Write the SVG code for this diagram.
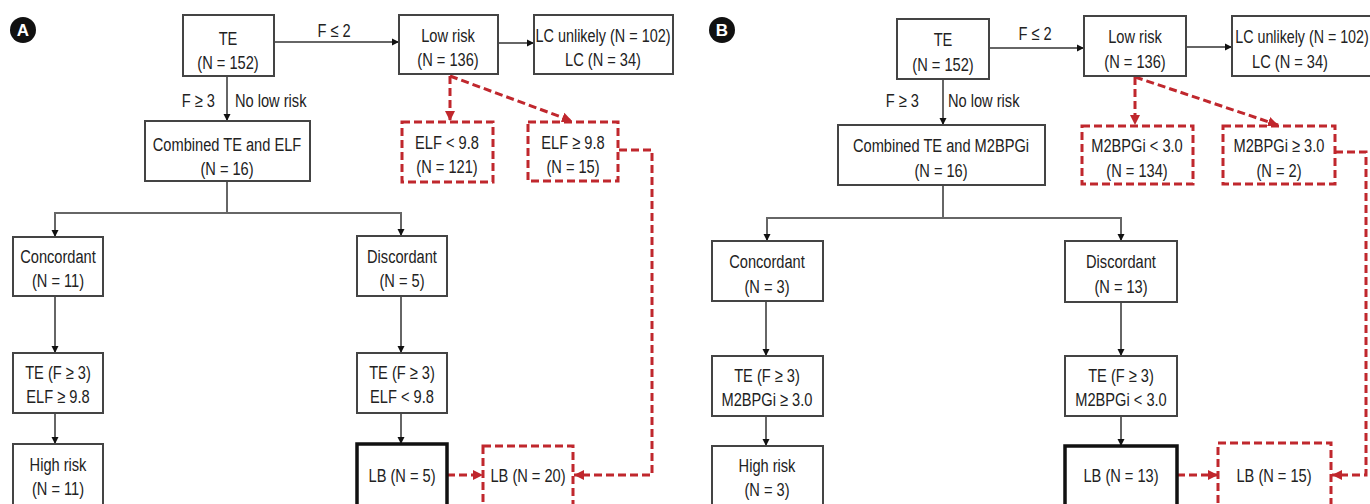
<svg xmlns="http://www.w3.org/2000/svg" width="1370" height="504" viewBox="0 0 1370 504">
<defs>
<marker id="ah" markerUnits="userSpaceOnUse" markerWidth="8" markerHeight="8" refX="7" refY="4" orient="auto"><path d="M0,0.5 L7,4 L0,7.5 z" fill="#111"/></marker>
<marker id="ahr" markerUnits="userSpaceOnUse" markerWidth="12" markerHeight="12" refX="10" refY="6" orient="auto"><path d="M0,1 L10,6 L0,11 z" fill="#c0272d"/></marker>
<style>
text{font-family:"Liberation Sans",Arial,sans-serif;font-size:19px;fill:#222;text-anchor:middle}
.box{fill:#fff;stroke:#444;stroke-width:2}
.thick{fill:#fff;stroke:#111;stroke-width:3.5}
.rbox{fill:#fff;stroke:#c0272d;stroke-width:3;stroke-dasharray:8 4}
.ln{fill:none;stroke:#666;stroke-width:2;marker-end:url(#ah)}
.rl{fill:none;stroke:#c0272d;stroke-width:3;stroke-dasharray:8 4;marker-end:url(#ahr)}
.lbl{text-anchor:start}
.lbr{text-anchor:end}
.badge{fill:#111}
.badgeT{font-weight:bold;fill:#fff;font-size:17px}
</style>
</defs>

<g id="connectors">
<path class="ln" d="M274,42 H399"/>
<path class="ln" d="M498,43 H534"/>
<path class="ln" d="M227,76 V121"/>
<path class="ln" d="M227,181 V213 H55 V237"/>
<path class="ln" d="M227,213 H401 V236"/>
<path class="ln" d="M55,296 V353"/>
<path class="ln" d="M55,413 V444"/>
<path class="ln" d="M401,296 V353"/>
<path class="ln" d="M401,413 V444"/>
<path class="rl" d="M450,76 V121"/>
<path class="rl" d="M450,76 L572,121"/>
<path class="rl" d="M619,150 H652 V475 H574"/>
<path class="rl" d="M447,475 H483"/>
<path class="ln" d="M989,48 H1084"/>
<path class="ln" d="M1186,47 H1232"/>
<path class="ln" d="M943,79 V125"/>
<path class="ln" d="M943,185 V218 H767 V241"/>
<path class="ln" d="M943,218 H1121 V241"/>
<path class="ln" d="M766,301 V356"/>
<path class="ln" d="M766,416 V446"/>
<path class="ln" d="M1121,302 V356"/>
<path class="ln" d="M1121,416 V446"/>
<path class="rl" d="M1135,77 V125"/>
<path class="rl" d="M1135,77 L1278,125"/>
<path class="rl" d="M1335,152 H1366 V475 H1332"/>
<path class="rl" d="M1177,475 H1218"/>
</g>

<g id="labels">
<text transform="translate(334,37) scale(0.77,1)">F ≤ 2</text>
<text class="lbr" transform="translate(215,107) scale(0.77,1)">F ≥ 3</text>
<text class="lbl" transform="translate(235,107) scale(0.77,1)">No low risk</text>
<text transform="translate(1035,40) scale(0.77,1)">F ≤ 2</text>
<text class="lbr" transform="translate(919,107) scale(0.77,1)">F ≥ 3</text>
<text class="lbl" transform="translate(948,107) scale(0.77,1)">No low risk</text>
</g>

<g id="badgeA"><circle class="badge" cx="23" cy="30" r="13"/><text class="badgeT" x="23" y="36">A</text></g>
<g id="badgeB"><circle class="badge" cx="722" cy="30" r="13"/><text class="badgeT" x="722" y="36">B</text></g>

<g id="a-te"><rect class="box" x="183" y="15" width="91" height="61"/><text transform="translate(228,45) scale(0.77,1)">TE</text><text transform="translate(228,69) scale(0.77,1)">(N = 152)</text></g>
<g id="a-low"><rect class="box" x="399" y="15" width="99" height="59"/><text transform="translate(448,42) scale(0.77,1)">Low risk</text><text transform="translate(448,66) scale(0.77,1)">(N = 136)</text></g>
<g id="a-lc"><rect class="box" x="534" y="15" width="139" height="59"/><text transform="translate(603,42) scale(0.76,1)">LC unlikely (N = 102)</text><text transform="translate(603,66) scale(0.77,1)">LC (N = 34)</text></g>
<g id="a-comb"><rect class="box" x="145" y="121" width="165" height="60"/><text transform="translate(227,151) scale(0.77,1)">Combined TE and ELF</text><text transform="translate(227,175) scale(0.77,1)">(N = 16)</text></g>
<g id="a-elf-lo"><rect class="rbox" x="402" y="122" width="91" height="60"/><text transform="translate(447,149) scale(0.77,1)">ELF &lt; 9.8</text><text transform="translate(447,173) scale(0.77,1)">(N = 121)</text></g>
<g id="a-elf-hi"><rect class="rbox" x="528" y="122" width="90" height="59"/><text transform="translate(573,149) scale(0.77,1)">ELF ≥ 9.8</text><text transform="translate(573,173) scale(0.77,1)">(N = 15)</text></g>
<g id="a-conc"><rect class="box" x="13" y="237" width="90" height="59"/><text transform="translate(58,263) scale(0.77,1)">Concordant</text><text transform="translate(58,287) scale(0.77,1)">(N = 11)</text></g>
<g id="a-disc"><rect class="box" x="357" y="236" width="90" height="60"/><text transform="translate(402,263) scale(0.77,1)">Discordant</text><text transform="translate(402,287) scale(0.77,1)">(N = 5)</text></g>
<g id="a-te-c"><rect class="box" x="13" y="353" width="90" height="60"/><text transform="translate(58,379) scale(0.77,1)">TE (F ≥ 3)</text><text transform="translate(58,403) scale(0.77,1)">ELF ≥ 9.8</text></g>
<g id="a-te-d"><rect class="box" x="357" y="353" width="90" height="60"/><text transform="translate(402,379) scale(0.77,1)">TE (F ≥ 3)</text><text transform="translate(402,403) scale(0.77,1)">ELF &lt; 9.8</text></g>
<g id="a-high"><rect class="box" x="13" y="444" width="90" height="64"/><text transform="translate(58,471) scale(0.77,1)">High risk</text><text transform="translate(58,495) scale(0.77,1)">(N = 11)</text></g>
<g id="a-lb5"><rect class="thick" x="357" y="444" width="90" height="66"/><text transform="translate(402,482) scale(0.77,1)">LB (N = 5)</text></g>
<g id="a-lb20"><rect class="rbox" x="483" y="446" width="90" height="64"/><text transform="translate(528,482) scale(0.77,1)">LB (N = 20)</text></g>

<g id="b-te"><rect class="box" x="897" y="19" width="92" height="60"/><text transform="translate(943,46) scale(0.77,1)">TE</text><text transform="translate(943,71) scale(0.77,1)">(N = 152)</text></g>
<g id="b-low"><rect class="box" x="1084" y="16" width="102" height="60"/><text transform="translate(1135,43) scale(0.77,1)">Low risk</text><text transform="translate(1135,68) scale(0.77,1)">(N = 136)</text></g>
<g id="b-lc"><rect class="box" x="1232" y="16" width="140" height="60"/><text transform="translate(1302,43) scale(0.75,1)">LC unlikely (N = 102)</text><text transform="translate(1290,68) scale(0.77,1)">LC (N = 34)</text></g>
<g id="b-comb"><rect class="box" x="838" y="125" width="207" height="60"/><text transform="translate(941,152) scale(0.77,1)">Combined TE and M2BPGi</text><text transform="translate(941,177) scale(0.77,1)">(N = 16)</text></g>
<g id="b-m-lo"><rect class="rbox" x="1082" y="126" width="111" height="58"/><text transform="translate(1137,152) scale(0.77,1)">M2BPGi &lt; 3.0</text><text transform="translate(1137,177) scale(0.77,1)">(N = 134)</text></g>
<g id="b-m-hi"><rect class="rbox" x="1223" y="126" width="112" height="58"/><text transform="translate(1279,152) scale(0.77,1)">M2BPGi ≥ 3.0</text><text transform="translate(1279,177) scale(0.77,1)">(N = 2)</text></g>
<g id="b-conc"><rect class="box" x="712" y="241" width="111" height="60"/><text transform="translate(767,268) scale(0.77,1)">Concordant</text><text transform="translate(767,293) scale(0.77,1)">(N = 3)</text></g>
<g id="b-disc"><rect class="box" x="1065" y="241" width="112" height="61"/><text transform="translate(1121,268) scale(0.77,1)">Discordant</text><text transform="translate(1121,293) scale(0.77,1)">(N = 13)</text></g>
<g id="b-te-c"><rect class="box" x="712" y="356" width="111" height="60"/><text transform="translate(767,382) scale(0.77,1)">TE (F ≥ 3)</text><text transform="translate(767,406) scale(0.77,1)">M2BPGi ≥ 3.0</text></g>
<g id="b-te-d"><rect class="box" x="1065" y="356" width="112" height="60"/><text transform="translate(1121,382) scale(0.77,1)">TE (F ≥ 3)</text><text transform="translate(1121,406) scale(0.77,1)">M2BPGi &lt; 3.0</text></g>
<g id="b-high"><rect class="box" x="712" y="446" width="111" height="64"/><text transform="translate(767,472) scale(0.77,1)">High risk</text><text transform="translate(767,496) scale(0.77,1)">(N = 3)</text></g>
<g id="b-lb13"><rect class="thick" x="1065" y="446" width="112" height="64"/><text transform="translate(1121,482) scale(0.77,1)">LB (N = 13)</text></g>
<g id="b-lb15"><rect class="rbox" x="1218" y="443" width="113" height="67"/><text transform="translate(1274,482) scale(0.77,1)">LB (N = 15)</text></g>
</svg>
